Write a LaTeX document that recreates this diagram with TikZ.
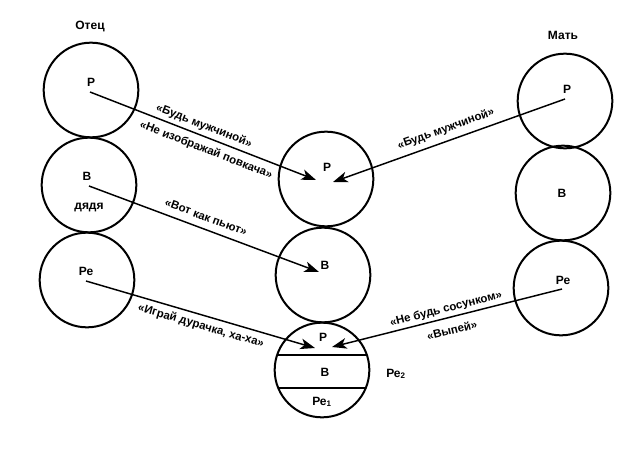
\documentclass[tikz,border=0pt]{standalone}
\usepackage{fontspec}
\setmainfont{Liberation Sans}
\usetikzlibrary{arrows.meta}
\begin{document}
\begin{tikzpicture}[x=0.75pt,y=-0.75pt,
  circ/.style={draw,circle,line width=1.5pt,minimum size=71pt,inner sep=0pt},
  lbl/.style={font=\fontsize{9}{10}\selectfont\bfseries},
  msg/.style={font=\fontsize{8.6}{10}\selectfont\bfseries,inner sep=0pt},
  arr/.style={line width=1.1pt,-{Stealth[length=11pt,width=8pt,inset=3pt]}}]
\useasboundingbox (0,0) rectangle (623,449);
% father
\node[lbl] (fa) at (90,27) {Отец};
\node[circ] (fP) at (91,90) {};
\node[circ] (fB) at (89,185) {};
\node[circ] (fR) at (87,280) {};
\node[lbl] (fPl) at (91,82) {Р};
\node[lbl] (fBl) at (87,176) {В};
\node[lbl] (fBd) at (89,208) {дядя};
\node[lbl] (fRl) at (86,271) {Ре};
% mother
\node[lbl] (mo) at (563,35) {Мать};
\node[circ] (mP) at (565,101) {};
\node[circ] (mB) at (563,193) {};
\node[circ] (mR) at (561,288) {};
\node[lbl] (mPl) at (567,89) {Р};
\node[lbl] (mBl) at (562,193) {В};
\node[lbl] (mRl) at (563,280) {Ре};
% child
\node[circ] (cP) at (326,179) {};
\node[circ] (cB) at (323,275) {};
\node[circ] (cR) at (322,370) {};
\node[lbl] (cPl) at (327,167) {Р};
\node[lbl] (cBl) at (325,265) {В};
\node[lbl] (cRP) at (323,337) {Р};
\node[lbl] (cRB) at (325,372) {В};
\node[lbl] (cR1) at (322,402) {Ре\textsubscript{1}};
\node[lbl] (cR2) at (396,374) {Ре\textsubscript{2}};
\draw[line width=1.3pt] (277.5,355) -- (366.5,355);
\draw[line width=1.3pt] (278.6,388) -- (365.4,388);
% connector points
\coordinate (fPs) at (90,92);
\coordinate (fBs) at (89,186);
\coordinate (fRs) at (86,281);
\coordinate (mPs) at (565,99);
\coordinate (mRs) at (562,289);
\coordinate (cPa) at (316,180);
\coordinate (cPb) at (333,182);
\coordinate (cBa) at (319,272);
\coordinate (cRa) at (315,348);
\coordinate (cRb) at (332,347);
% arrows
\draw[arr] (fPs) -- (cPa);
\draw[arr] (mPs) -- (cPb);
\draw[arr] (fBs) -- (cBa);
\draw[arr] (fRs) -- (cRa);
\draw[arr] (mRs) -- (cRb);
% messages
\node[msg,rotate=-21.3] (m1a) at (204,126) {«Будь мужчиной»};
\node[msg,rotate=-21.3] (m1b) at (206,150) {«Не изображай повкача»};
\node[msg,rotate=19.7] (m2) at (446,129) {«Будь мужчиной»};
\node[msg,rotate=-20.5] (m3) at (206,217) {«Вот как пьют»};
\node[msg,rotate=-16.3] (m4) at (201,326) {«Играй дурачка, ха-ха»};
\node[msg,rotate=14.2] (m5a) at (446,309) {«Не будь сосунком»};
\node[msg,rotate=14.2] (m5b) at (452,330) {«Выпей»};
\end{tikzpicture}
\end{document}
